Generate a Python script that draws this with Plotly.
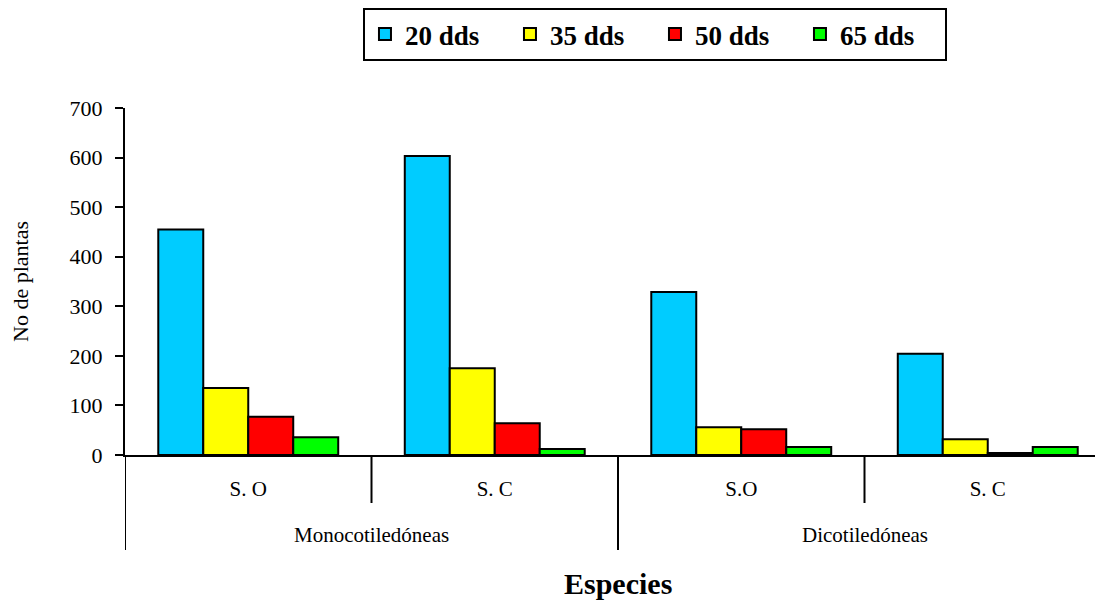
import plotly.graph_objects as go

groups = ["Monocotiledóneas", "Dicotiledóneas"]
subcats = ["S. O", "S. C", "S.O", "S. C"]
series_names = ["20 dds", "35 dds", "50 dds", "65 dds"]
v20 = [455, 603, 329, 204]
v35 = [135, 175, 56, 32]
v50 = [77, 64, 52, 4]
v65 = [36, 12, 16, 16]
colors = ["#00CCFF", "#FFFF00", "#FF0000", "#00FF00"]
y_ticks = [0, 100, 200, 300, 400, 500, 600, 700]

xpos = list(range(len(subcats)))
serif = "Liberation Serif"

fig = go.Figure()
for name, vals, col in zip(series_names, [v20, v35, v50, v65], colors):
    fig.add_trace(go.Bar(
        x=xpos, y=vals, name=name,
        marker=dict(color=col, line=dict(color="black", width=2)),
    ))

# plot-area geometry: height 347 px
ph = 347.0
def py(px_below):
    return -px_below / ph

# short ticks between sub-categories, long dividers between groups
for b in [0.5, 2.5]:
    fig.add_shape(type="line", xref="x", yref="paper", x0=b, x1=b, y0=0, y1=py(48),
                  line=dict(color="black", width=2))
for b in [-0.5, 1.5]:
    fig.add_shape(type="line", xref="x", yref="paper", x0=b, x1=b, y0=0, y1=py(95),
                  line=dict(color="black", width=2))

# group labels
for i, g in enumerate(groups):
    fig.add_annotation(x=2 * i + 0.5, xref="x", y=py(80), yref="paper",
                       text=g, showarrow=False, yanchor="middle",
                       font=dict(family=serif, size=21, color="black"))

fig.update_layout(
    width=1103, height=602,
    margin=dict(l=117, r=0, t=100, b=155),
    paper_bgcolor="white", plot_bgcolor="white",
    barmode="group", bargap=0.27, bargroupgap=0,
    font=dict(family=serif, color="black", size=18),
    showlegend=True,
    legend=dict(
        orientation="h", x=0.5375, xanchor="center", y=1.0, yanchor="top",
        yref="container",
        bordercolor="black", borderwidth=2,
        font=dict(family=serif, size=27, color="black", weight="bold"),
        itemsizing="constant", entrywidth=100, entrywidthmode="pixels",
    ),
    xaxis=dict(
        range=[-0.5, 3.5], tickvals=xpos, ticktext=subcats,
        showline=True, linecolor="black", linewidth=2,
        ticks="", ticklabelstandoff=14,
        tickfont=dict(family=serif, size=21, color="black"),
        showgrid=False, zeroline=False, automargin=False,
    ),
    yaxis=dict(
        range=[0, 700], tickvals=y_ticks,
        showline=True, linecolor="black", linewidth=2,
        ticks="outside", ticklen=8, tickwidth=2, tickcolor="black",
        ticklabelstandoff=8,
        tickfont=dict(family=serif, size=22, color="black"),
        title=dict(text="No de plantas", font=dict(family=serif, size=22, color="black"), standoff=43),
        showgrid=False, zeroline=False, automargin=False,
    ),
)
fig.add_annotation(x=0.5, xref="paper", y=py(128), yref="paper", text="<b>Especies</b>",
                   showarrow=False, yanchor="middle",
                   font=dict(family=serif, size=30, color="black"))
fig.write_html("out.html")
